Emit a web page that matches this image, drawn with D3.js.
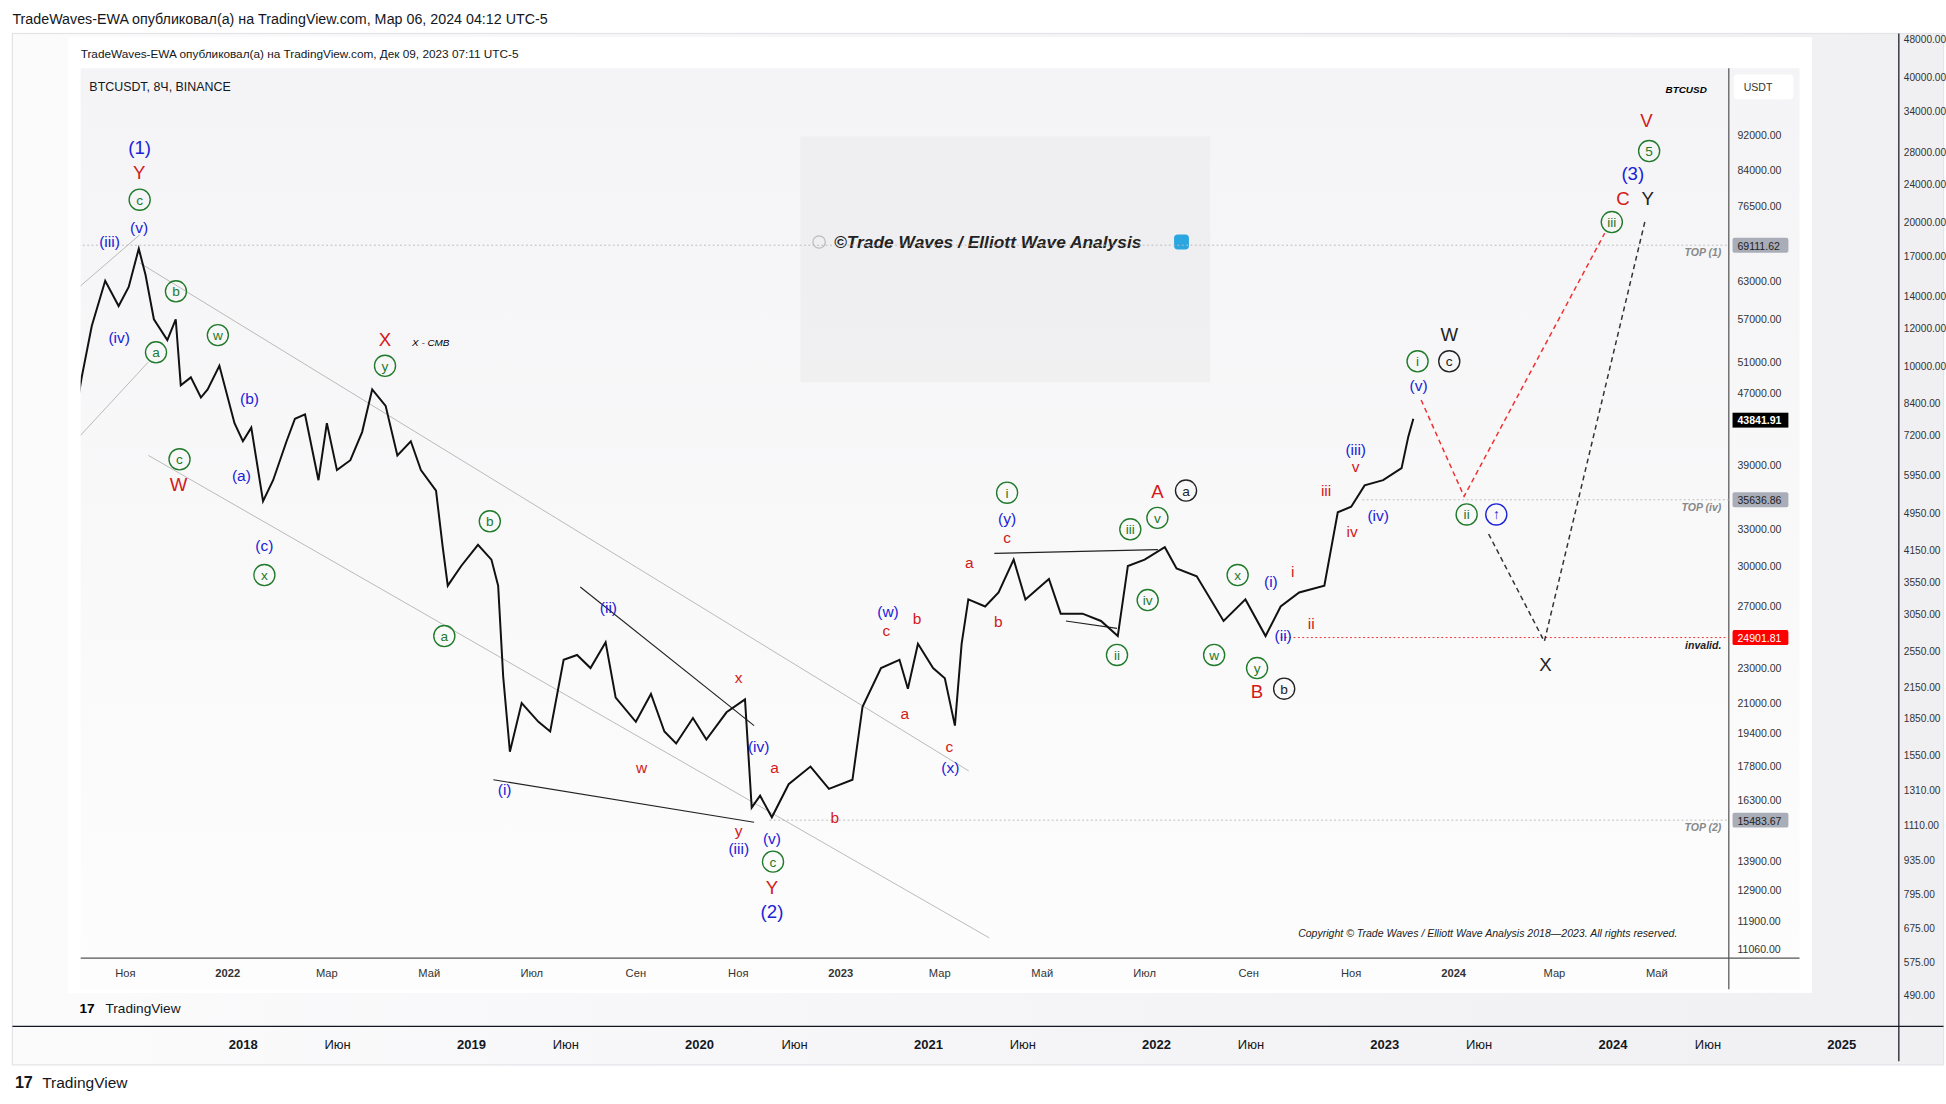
<!DOCTYPE html>
<html><head><meta charset="utf-8">
<script src="https://cdn.jsdelivr.net/npm/d3@7"></script>
<style>body{margin:0;background:#fff}svg{display:block}text{font-family:"Liberation Sans",Arial,sans-serif}</style>
</head><body>
<svg id="c" width="1946" height="1104" viewBox="0 0 1568 889.5" preserveAspectRatio="none"></svg>
<script>
// ---------------- DATA ----------------
const priceDates = ["2021-10-01","2021-10-06","2021-10-12","2021-10-20","2021-10-28","2021-11-03","2021-11-09","2021-11-13","2021-11-18","2021-11-26","2021-12-01","2021-12-04","2021-12-10","2021-12-16","2021-12-20","2021-12-27","2022-01-05","2022-01-10","2022-01-15","2022-01-22","2022-01-28","2022-02-05","2022-02-10","2022-02-16","2022-02-24","2022-03-01","2022-03-07","2022-03-15","2022-03-22","2022-03-28","2022-04-05","2022-04-12","2022-04-20","2022-04-26","2022-05-05","2022-05-09","2022-05-12","2022-05-20","2022-05-30","2022-06-07","2022-06-11","2022-06-14","2022-06-18","2022-06-25","2022-07-05","2022-07-12","2022-07-20","2022-07-28","2022-08-05","2022-08-14","2022-08-20","2022-09-01","2022-09-10","2022-09-18","2022-09-25","2022-10-05","2022-10-13","2022-10-25","2022-11-05","2022-11-09","2022-11-14","2022-11-21","2022-12-01","2022-12-14","2022-12-25","2023-01-08","2023-01-14","2023-01-25","2023-02-05","2023-02-10","2023-02-16","2023-02-25","2023-03-04","2023-03-10","2023-03-14","2023-03-18","2023-03-28","2023-04-05","2023-04-14","2023-04-21","2023-05-05","2023-05-12","2023-05-25","2023-06-05","2023-06-15","2023-06-21","2023-07-01","2023-07-13","2023-07-20","2023-08-01","2023-08-17","2023-08-30","2023-09-11","2023-09-20","2023-10-01","2023-10-16","2023-10-24","2023-11-01","2023-11-09","2023-11-20","2023-12-01","2023-12-05","2023-12-08"];
const priceValues = [43000,49000,56000,63000,59000,62000,68500,64000,57000,54000,57000,48000,49000,46500,47500,50500,43500,41500,43000,35500,37500,41500,44000,44500,37500,43500,38500,39500,42500,47500,45500,40000,41500,38500,36500,31500,28500,30000,31700,30500,28500,22500,18500,21000,20000,19500,23500,23800,23000,24600,21300,20000,21500,19500,18900,20200,19100,20500,21200,16000,16500,15600,17000,17800,16800,17200,20800,23000,23500,21800,24500,23000,22400,19800,24500,27500,27000,28000,30500,27500,29000,26500,26500,26000,25000,30000,30500,31500,29800,29200,26000,27500,25000,27000,28000,28500,34500,35000,37000,37500,38700,42000,44000];

const innerTicks = [92000,84000,76500,63000,57000,51000,47000,39000,33000,30000,27000,23000,21000,19400,17800,16300,13900,12900,11900,11060];
const outerTicks = [48000,40000,34000,28000,24000,20000,17000,14000,12000,10000,8400,7200,5950,4950,4150,3550,3050,2550,2150,1850,1550,1310,1110,935,795,675,575,490];
const innerMonths = ["2021-11-01","2022-01-01","2022-03-01","2022-05-01","2022-07-01","2022-09-01","2022-11-01","2023-01-01","2023-03-01","2023-05-01","2023-07-01","2023-09-01","2023-11-01","2024-01-01","2024-03-01","2024-05-01"];
const innerMonthLabels = ["Ноя","2022","Мар","Май","Июл","Сен","Ноя","2023","Мар","Май","Июл","Сен","Ноя","2024","Мар","Май"];
const outerDates = ["2018-01-01","2018-06-01","2019-01-01","2019-06-01","2020-01-01","2020-06-01","2021-01-01","2021-06-01","2022-01-01","2022-06-01","2023-01-01","2023-06-01","2024-01-01","2024-06-01","2025-01-01"];
const outerLabels = ["2018","Июн","2019","Июн","2020","Июн","2021","Июн","2022","Июн","2023","Июн","2024","Июн","2025"];

const levels = [
  {p:69111.62, name:"TOP (1)", from:-1, col:"#a9adb8", line:"#bbb"},
  {p:35636.86, name:"TOP (iv)", from:24.2, col:"#a9adb8", line:"#bbb"},
  {p:24901.81, name:"invalid.", from:22.6, col:"#f00", line:"#e33"},
  {p:15483.67, name:"TOP (2)", from:12.6, col:"#a9adb8", line:"#bbb"}
];
// wave labels: months since 2021-11-01, price, text, colour, circled
const waves = [
  [0.28,89100,"(1)","b"],[0.27,83500,"Y","r"],[0.28,77800,"c","g",1],[0.27,72500,"(v)","b"],[-0.31,70000,"(iii)","b"],
  [-0.12,54400,"(iv)","b"],[0.6,52300,"a","g",1],[0.99,61300,"b","g",1],[1.81,54700,"w","g",1],[1.06,39600,"c","g",1],
  [1.04,37100,"W","r"],[2.43,46500,"(b)","b"],[2.27,38000,"(a)","b"],[2.72,31700,"(c)","b"],[2.72,29300,"x","g",1],
  [5.08,54000,"X","r"],[5.08,50500,"y","g",1],[7.13,33700,"b","g",1],[6.24,25000,"a","g",1],
  [7.42,16800,"(i)","b"],[9.45,27000,"(ii)","b"],[10.1,17800,"w","r"],[12.0,22500,"x","r"],[12.39,18800,"(iv)","b"],
  [12.7,17800,"a","r"],[13.88,15600,"b","r"],[12.0,15100,"y","r"],[12.65,14800,"(v)","b"],[12.0,14400,"(iii)","b"],
  [12.67,13900,"c","g",1],[12.65,13000,"Y","r"],[12.65,12200,"(2)","b"],
  [14.92,26700,"(w)","b"],[14.89,25400,"c","r"],[15.49,26200,"b","r"],[15.25,20500,"a","r"],[16.12,18800,"c","r"],[16.14,17800,"(x)","b"],
  [16.51,30300,"a","r"],[17.08,26000,"b","r"],[17.25,32400,"c","r"],[17.25,34000,"(y)","b"],[17.25,36300,"i","g",1],
  [19.66,33000,"iii","g",1],[20.19,34000,"v","g",1],[20.0,27450,"iv","g",1],[19.4,23800,"ii","g",1],
  [20.19,36400,"A","r"],[20.75,36500,"a","k",1],[21.76,29300,"x","g",1],[21.3,23800,"w","g",1],[22.14,23000,"y","g",1],
  [22.14,21600,"B","r"],[22.67,21800,"b","k",1],[22.41,28900,"(i)","b"],[22.84,29600,"i","r"],[22.65,25100,"(ii)","b"],[23.2,25900,"ii","r"],
  [23.49,36600,"iii","r"],[24.0,32900,"iv","r"],[24.07,38900,"v","r"],[24.07,40700,"(iii)","b"],[24.51,34300,"(iv)","b"],
  [25.3,48100,"(v)","b"],[25.28,51100,"i","g",1],[25.9,51100,"c","k",1],[25.9,54700,"W","k"],[26.24,34300,"ii","g",1],[26.82,34300,"↑","b",1],
  [27.78,23200,"X","k"],[29.08,73400,"iii","g",1],[29.3,78000,"C","r"],[29.78,78000,"Y","k"],[29.49,83200,"(3)","b"],[29.81,88300,"5","g",1],[29.76,95600,"V","r"]
];
const redPath = [[25.35,46200],[26.19,35950],[28.94,71300]];
const blackPath = [[26.67,32600],[27.76,24650],[29.73,73600]];
const channelLines = [
  [[0.28,66000],[16.5,17600]], [[0.45,40000],[16.9,11400]], [[-0.9,62000],[0.28,71000]], [[-0.9,42000],[0.45,51000]]
];
const trendLines = [
  [[7.2,17200],[12.3,15400]], [[8.9,28400],[12.3,19800]], [[17.0,31000],[20.2,31300]], [[18.4,26000],[19.4,25500]]
];

// ---------------- SCALES ----------------
const P = d3.timeParse("%Y-%m-%d");
const base = new Date(2021,10,1);
const mdate = m => new Date(base.getTime() + m*30.44*864e5);
const svg = d3.select("#c");
const X = d3.scaleTime().domain([P("2021-11-01"),P("2024-05-01")]).range([101,1335]);
const Y = d3.scaleLog().domain([11060,92000]).range([765,109]);
const OX = d3.scaleTime().domain([P("2018-01-01"),P("2025-01-01")]).range([196,1484]);
const OY = d3.scaleLog().domain([490,48000]).range([802,32]);
const col = {b:"#1a22d6", r:"#d21a1a", g:"#1f7a2a", k:"#222"};

// ---------------- OUTER FRAME ----------------
svg.append("text").attr("x",10).attr("y",19).attr("font-size",11.5).attr("fill","#131722").text("TradeWaves-EWA опубликовал(а) на TradingView.com, Мар 06, 2024 04:12 UTC-5");
const og = svg.append("linearGradient").attr("id","og");
og.append("stop").attr("offset","0").attr("stop-color","#fbfbfc");
og.append("stop").attr("offset","1").attr("stop-color","#f0f0f3");
svg.append("rect").attr("x",10).attr("y",27).attr("width",1556).attr("height",831).attr("fill","url(#og)").attr("stroke","#e3e4e8");
svg.append("line").attr("x1",1530).attr("x2",1530).attr("y1",27).attr("y2",855).attr("stroke","#131722");
svg.append("line").attr("x1",10).attr("x2",1566).attr("y1",827).attr("y2",827).attr("stroke","#131722");
svg.append("g").selectAll("text").data(outerTicks).join("text").attr("x",1534).attr("y",d=>OY(d)+3).attr("font-size",8.2).attr("fill","#333").text(d=>d3.format(".2f")(d));
svg.append("g").selectAll("text").data(outerDates).join("text").attr("x",d=>OX(P(d))).attr("y",845).attr("text-anchor","middle")
  .attr("font-size",10.5).attr("font-weight",(d,i)=>outerLabels[i].length===4?"bold":"normal").attr("fill","#131722").text((d,i)=>outerLabels[i]);
svg.append("text").attr("x",12).attr("y",877).attr("font-size",13).attr("font-weight","bold").attr("fill","#131722").text("17");
svg.append("text").attr("x",34).attr("y",877).attr("font-size",12.5).attr("fill","#131722").text("TradingView");

// ---------------- INNER IMAGE ----------------
svg.append("rect").attr("x",55).attr("y",30).attr("width",1405).attr("height",770).attr("fill","#fff");
svg.append("text").attr("x",65).attr("y",47).attr("font-size",9.5).attr("fill","#131722").text("TradeWaves-EWA опубликовал(а) на TradingView.com, Дек 09, 2023 07:11 UTC-5");
const ig = svg.append("linearGradient").attr("id","ig").attr("x1",0).attr("y1",0).attr("x2",0).attr("y2",1);
ig.append("stop").attr("offset","0").attr("stop-color","#f4f4f6");
ig.append("stop").attr("offset","1").attr("stop-color","#fdfdfd");
svg.append("rect").attr("x",65).attr("y",55).attr("width",1385).attr("height",742).attr("fill","url(#ig)");
svg.append("line").attr("x1",1393).attr("x2",1393).attr("y1",55).attr("y2",797).attr("stroke","#555");
svg.append("line").attr("x1",65).attr("x2",1450).attr("y1",772).attr("y2",772).attr("stroke","#555");
svg.append("rect").attr("x",645).attr("y",110).attr("width",330).attr("height",198).attr("fill","#ececee").attr("opacity",0.7);
svg.append("text").attr("x",672).attr("y",200).attr("font-size",14).attr("font-weight","bold").attr("font-style","italic").attr("fill","#222").text("©Trade Waves / Elliott Wave Analysis");
svg.append("circle").attr("cx",660).attr("cy",195).attr("r",5).attr("fill","none").attr("stroke","#bbb");
svg.append("rect").attr("x",946).attr("y",189).attr("width",12).attr("height",12).attr("rx",3).attr("fill","#2aa7e0");
svg.append("text").attr("x",72).attr("y",73).attr("font-size",10).attr("fill","#131722").text("BTCUSDT, 8Ч, BINANCE");
svg.append("text").attr("x",1342).attr("y",75).attr("font-size",8).attr("font-weight","bold").attr("font-style","italic").text("BTCUSD");
svg.append("rect").attr("x",1397).attr("y",60).attr("width",48).attr("height",20).attr("rx",3).attr("fill","#fff");
svg.append("text").attr("x",1405).attr("y",73).attr("font-size",8.5).attr("fill","#333").text("USDT");
svg.append("text").attr("x",1046).attr("y",755).attr("font-size",8.5).attr("font-style","italic").attr("fill","#222").text("Copyright © Trade Waves / Elliott Wave Analysis 2018—2023. All rights reserved.");
svg.append("text").attr("x",64).attr("y",816).attr("font-size",11).attr("font-weight","bold").text("17");
svg.append("text").attr("x",85).attr("y",816).attr("font-size",11).attr("fill","#131722").text("TradingView");

// inner axes
svg.append("g").selectAll("text").data(innerTicks).join("text").attr("x",1400).attr("y",d=>Y(d)+3).attr("font-size",8.5).attr("fill","#333").text(d=>d3.format(".2f")(d));
svg.append("g").selectAll("text").data(innerMonths).join("text").attr("x",d=>X(P(d))).attr("y",787).attr("text-anchor","middle")
  .attr("font-size",9).attr("font-weight",(d,i)=>innerMonthLabels[i].length===4?"bold":"normal").attr("fill","#333").text((d,i)=>innerMonthLabels[i]);

svg.append("clipPath").attr("id","cl").append("rect").attr("x",65).attr("y",55).attr("width",1328).attr("height",717);
const g = svg.append("g").attr("clip-path","url(#cl)");
const ln = d3.line().x(d=>X(mdate(d[0]))).y(d=>Y(d[1]));

levels.forEach(l=>{
  g.append("line").attr("x1",X(mdate(l.from))).attr("x2",1393).attr("y1",Y(l.p)).attr("y2",Y(l.p))
    .attr("stroke",l.line).attr("stroke-dasharray","1.5,2").attr("stroke-width",0.8);
  svg.append("text").attr("x",1387).attr("y",Y(l.p)+9).attr("text-anchor","end").attr("font-size",8.5).attr("font-style","italic")
    .attr("font-weight","bold").attr("fill",l.name==="invalid."?"#222":"#888").text(l.name);
  svg.append("rect").attr("x",1396).attr("y",Y(l.p)-6).attr("width",45).attr("height",12).attr("rx",1.5).attr("fill",l.col);
  svg.append("text").attr("x",1400).attr("y",Y(l.p)+3.5).attr("font-size",8.5).attr("fill",l.name==="invalid."?"#fff":"#222").text(d3.format(".2f")(l.p));
});
svg.append("rect").attr("x",1396).attr("y",Y(43841.91)-6).attr("width",45).attr("height",12).attr("fill","#000");
svg.append("text").attr("x",1400).attr("y",Y(43841.91)+3.5).attr("font-size",8.5).attr("font-weight","bold").attr("fill","#fff").text("43841.91");

channelLines.forEach(c=>g.append("path").attr("d",ln(c)).attr("stroke","#b0b0b0").attr("stroke-width",0.7).attr("fill","none"));
trendLines.forEach(c=>g.append("path").attr("d",ln(c)).attr("stroke","#222").attr("stroke-width",0.9).attr("fill","none"));

const series = priceDates.map((d,i)=>[P(d),priceValues[i]]);
g.append("path").attr("d",d3.line().x(d=>X(d[0])).y(d=>Y(d[1]))(series)).attr("fill","none").attr("stroke","#111").attr("stroke-width",1.6);

g.append("path").attr("d",ln(redPath)).attr("fill","none").attr("stroke","#f03030").attr("stroke-width",1.2).attr("stroke-dasharray","4,3");
g.append("path").attr("d",ln(blackPath)).attr("fill","none").attr("stroke","#333").attr("stroke-width",1.2).attr("stroke-dasharray","4,3");

const wg = g.append("g");
waves.forEach(w=>{
  const x = X(mdate(w[0])), y = Y(w[1]), c = col[w[3]];
  if (w[4]) wg.append("circle").attr("cx",x).attr("cy",y).attr("r",8.5).attr("fill","none").attr("stroke",c).attr("stroke-width",1.1);
  const big = /^[A-Z]$/.test(w[2]) || w[2]==="(1)"||w[2]==="(2)"||w[2]==="(3)";
  wg.append("text").attr("x",x).attr("y",y+(w[4]?4:5)).attr("text-anchor","middle")
    .attr("font-size",w[4]?11:(big?15:12.5)).attr("fill",c).attr("font-weight",w[2]==="↑"?"bold":"normal").text(w[2]);
});
svg.append("text").attr("x",332).attr("y",279).attr("font-size",8).attr("font-style","italic").text("X - CMB");
</script>
</body></html>
